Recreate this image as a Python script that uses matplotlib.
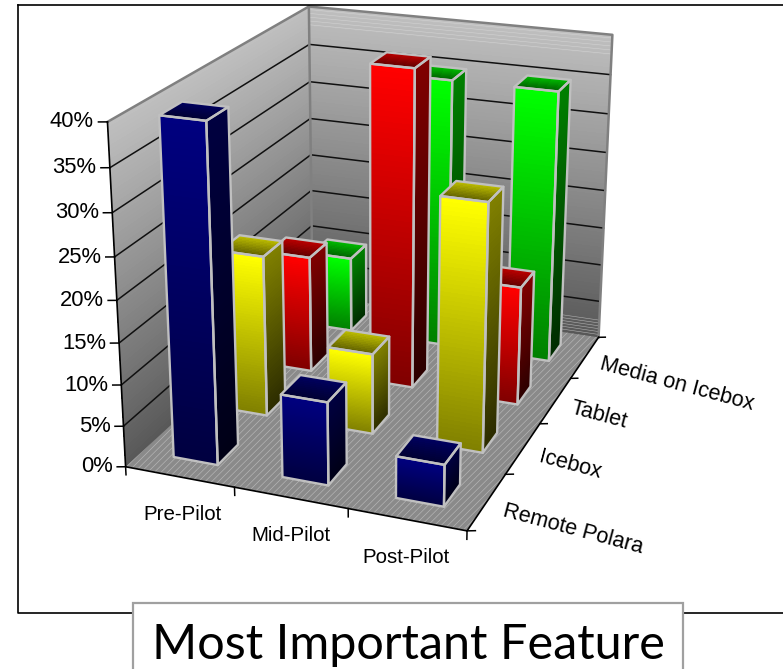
import numpy as np
import matplotlib
matplotlib.use('Agg')
import matplotlib.pyplot as plt
from matplotlib.lines import Line2D
from matplotlib.patches import Rectangle
from mpl_toolkits.mplot3d import proj3d
from mpl_toolkits.mplot3d.art3d import Poly3DCollection

W, H = 783, 669

stages = ['Pre-Pilot', 'Mid-Pilot', 'Post-Pilot']
features = ['Remote Polara', 'Icebox', 'Tablet', 'Media on Icebox']
remote_polara = [40, 10, 5]
icebox = [20, 10, 30]
tablet = [15, 40, 15]
media_on_icebox = [10, 35, 35]
values = [remote_polara, icebox, tablet, media_on_icebox]
pct_ticks = [0, 5, 10, 15, 20, 25, 30, 35, 40]

bar_colors = [(0, 0, 0.5), (1, 1, 0), (1, 0, 0), (0, 1, 0)]
bar_w = 0.41
bar_d = 0.40
n_strips = 60

plt.rcParams['font.family'] = ['Liberation Sans', 'DejaVu Sans']
plt.rcParams['hatch.linewidth'] = 0.5

fig = plt.figure(figsize=(W / 100, H / 100), dpi=100)
S, cx, cy = 650.86, 370.89, 250.09
ax = fig.add_axes([(cx - S / 2) / W, 1 - (cy + S / 2) / H, S / W, S / H], projection='3d')
ax.computed_zorder = False
ax.set_xlim(0, 3, view_margin=0)
ax.set_ylim(0, 4, view_margin=0)
ax.set_zlim(0, 40, view_margin=0)
ax.view_init(20.80, -69.13, -0.05)
ax.set_proj_type('persp', focal_length=0.5374)
ax.set_box_aspect((0.998, 1.339, 1.0))
ax.set_axis_off()
ax.patch.set_alpha(0)


def shade(color, f):
    return tuple(c * f for c in color)


def add_polys(polys, colors, z):
    # no antialiasing on the strips, it would leave seams between them
    pc = Poly3DCollection(polys, facecolors=colors, edgecolors=colors, linewidths=0,
                          antialiaseds=False, zorder=z)
    ax.add_collection3d(pc, autolim=False)


def label(x, y, z, s, **kw):
    # text placed at a projected 3D point, so that rotation stays usable
    px, py, _ = proj3d.proj_transform(x, y, z, ax.get_proj())
    ax.text2D(px, py, s, transform=ax.transData, zorder=30, **kw)


# walls, light at the top and dark near the floor
wall_levels = np.linspace(0, 40, 81)
left_wall = []
back_wall = []
wall_cols = []
for z0, z1 in zip(wall_levels[:-1], wall_levels[1:]):
    left_wall.append([(0, 0, z0), (0, 4, z0), (0, 4, z1), (0, 0, z1)])
    back_wall.append([(0, 4, z0), (3, 4, z0), (3, 4, z1), (0, 4, z1)])
    g = (88 + 104 * z0 / 40) / 255
    wall_cols.append((g, g, g))
add_polys(left_wall, wall_cols, 0)
add_polys(back_wall, wall_cols, 0)

# banding of the wall fill near its top and in the far low corner
for v in [37.6, 38.1, 38.6, 39.1, 39.6]:
    ax.plot([0, 3], [4, 4], [v, v], color='#d2d2d2', lw=0.4, zorder=0.6)
for v in [0.4, 0.8, 1.2, 1.6, 2.0, 2.4]:
    ax.plot([2.45, 3], [4, 4], [v, v], color='#b0b0b0', lw=0.4, zorder=0.6)

# floor with its fine diagonal hatching
floor = Poly3DCollection([[(0, 0, 0), (3, 0, 0), (3, 4, 0), (0, 4, 0)]], facecolors='#8a8a8a',
                         edgecolors='#b4b4b4', linewidths=0, hatch='/////', zorder=0.5)
ax.add_collection3d(floor, autolim=False)

# gridlines on both walls
for v in pct_ticks[1:-1]:
    ax.plot([0, 0, 3], [0, 4, 4], [v, v, v], color='#101010', lw=1.1, zorder=1)

# wall outlines
ax.plot([0, 0, 3, 3], [0, 4, 4, 4], [40, 40, 40, 0], color='#808080', lw=1.8, zorder=2)
ax.plot([0, 0], [4, 4], [0, 40], color='#808080', lw=1.8, zorder=2)

# axis lines, ticks and their labels
ax.plot([0, 0, 3, 3], [0, 0, 0, 4], [40, 0, 0, 0], color='black', lw=1.2, zorder=3)
for v in pct_ticks:
    ax.plot([0, -0.065], [0, -0.026], [v, v], color='black', lw=1.1, zorder=3)
    label(-0.097, -0.039, v, '%d%%' % v, ha='right', va='center', fontsize=15.8)
for i in range(4):
    ax.plot([i, i], [0, 0], [0, -1], color='black', lw=1.1, zorder=3)
for j in range(5):
    ax.plot([3, 3.06], [j, j + 0.026], [0, 0], color='black', lw=1.1, zorder=3)

stage_x = [0.51, 1.5, 2.49]
for i, name in enumerate(stages):
    label(stage_x[i], 0, -4.6, name, ha='center', va='center', fontsize=14.8)
for j, name in enumerate(features):
    label(3.17, j + 0.41, 0, name, ha='left', va='center', rotation=-15,
          rotation_mode='anchor', fontsize=15.6)

# bars, back row first and left to right so nearer ones cover farther ones
rank = 0
for j in range(3, -1, -1):
    color = bar_colors[j]
    for i in range(3):
        v = values[j][i]
        x0, x1 = i + 0.5 - bar_w / 2, i + 0.5 + bar_w / 2
        y0, y1 = j + 0.5 - bar_d / 2, j + 0.5 + bar_d / 2
        levels = np.linspace(0, v, n_strips + 1)
        polys = []
        cols = []
        for k in range(n_strips):
            t = k / (n_strips - 1)
            polys.append([(x0, y0, levels[k]), (x1, y0, levels[k]), (x1, y0, levels[k + 1]), (x0, y0, levels[k + 1])])
            cols.append(shade(color, 0.5 + 0.5 * t))
            polys.append([(x1, y0, levels[k]), (x1, y1, levels[k]), (x1, y1, levels[k + 1]), (x1, y0, levels[k + 1])])
            cols.append(shade(color, 0.17 + 0.33 * t))
        ys = np.linspace(y0, y1, 13)
        for k in range(12):
            t = k / 11
            polys.append([(x0, ys[k], v), (x1, ys[k], v), (x1, ys[k + 1], v), (x0, ys[k + 1], v)])
            cols.append(shade(color, 0.4 + 0.35 * t))
        add_polys(polys, cols, 10 + rank)
        outline = [
            [(x0, y0, 0), (x1, y0, 0), (x1, y0, v), (x0, y0, v)],
            [(x1, y0, 0), (x1, y1, 0), (x1, y1, v), (x1, y0, v)],
            [(x0, y0, v), (x1, y0, v), (x1, y1, v), (x0, y1, v)],
        ]
        pc = Poly3DCollection(outline, facecolors=[(0, 0, 0, 0)], edgecolors='#c0c0c0', linewidths=1.7,
                              zorder=10.5 + rank)
        ax.add_collection3d(pc, autolim=False)
        rank += 1

# frame round the chart and the box with the heading
fig.add_artist(Line2D([18 / W, 1], [1 - 5 / H, 1 - 5 / H], color='black', lw=1.2))
fig.add_artist(Line2D([18 / W, 18 / W, 1], [1 - 5 / H, 1 - 613 / H, 1 - 613 / H], color='black', lw=1.2))
fig.add_artist(Rectangle((133 / W, -0.02), 550 / W, 1 - 603 / H + 0.02, facecolor='white',
                         edgecolor='#a0a0a0', lw=1.6, transform=fig.transFigure, zorder=5))
fig.text(408 / W, 1 - 659 / H, 'Most Important Feature', ha='center', va='baseline',
         family=['Lato', 'DejaVu Sans'], fontsize=35, zorder=6)

fig.savefig('out.png', dpi=100)
